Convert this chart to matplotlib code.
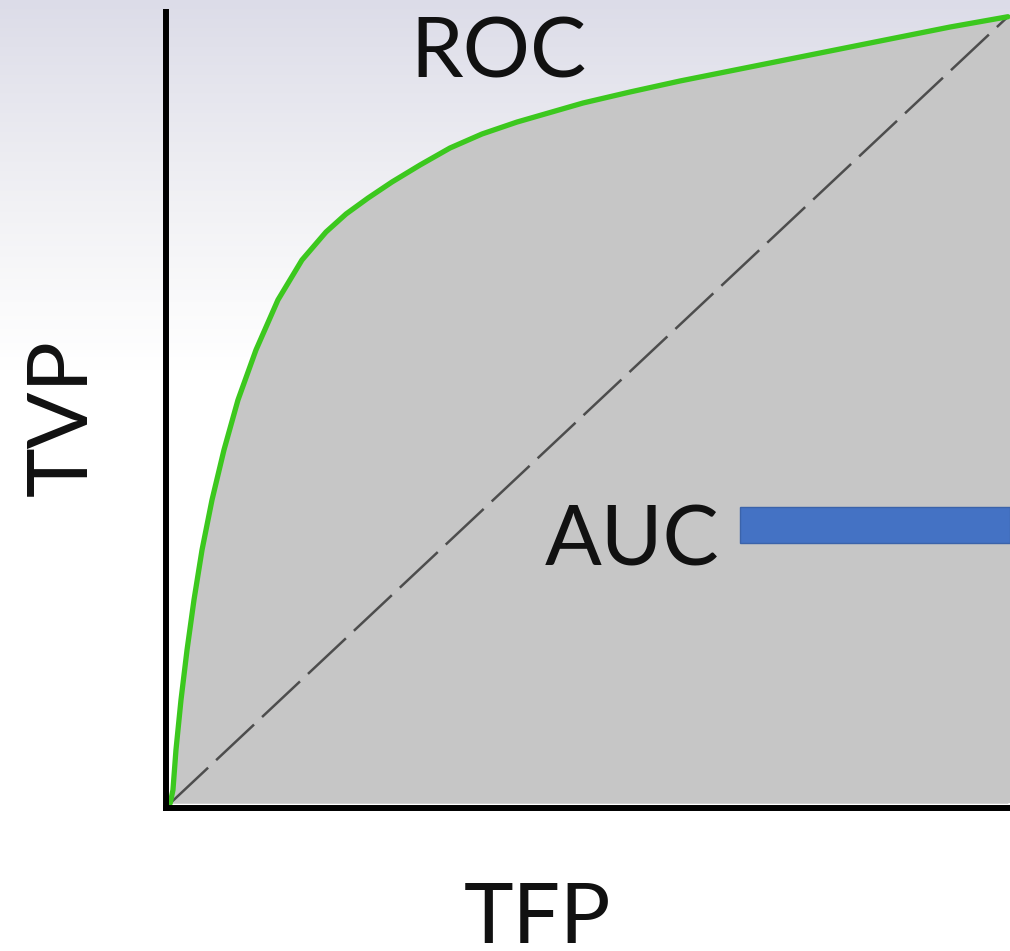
import numpy as np
import matplotlib
matplotlib.use("Agg")
import matplotlib.pyplot as plt
from matplotlib.patches import Rectangle

# ROC curve points (false positive rate, true positive rate)
fpr = [0.0, 0.0033, 0.0069, 0.0129, 0.0201, 0.0284, 0.0380, 0.0499, 0.0642,
       0.0809, 0.1024, 0.1286, 0.1573, 0.1860, 0.2099, 0.2362, 0.2648, 0.2983,
       0.3340, 0.3722, 0.4140, 0.4928, 0.5489, 0.6086, 0.6922, 0.8115, 0.9309,
       1.0]
tpr = [0.0, 0.0169, 0.0678, 0.1314, 0.1949, 0.2585, 0.3221, 0.3856, 0.4492,
       0.5127, 0.5763, 0.6399, 0.6907, 0.7263, 0.7492, 0.7695, 0.7899, 0.8115,
       0.8331, 0.8509, 0.8661, 0.8903, 0.9043, 0.9183, 0.9361, 0.9615, 0.9869,
       1.0]
# chance line
chance = [0.0, 1.0]

title_text = "ROC"
area_text = "AUC"
x_label = "TFP"
y_label = "TVP"

W, H = 1010, 951
fig = plt.figure(figsize=(W / 100, H / 100), dpi=100)

# soft background gradient, lavender at the top fading to white
bg = fig.add_axes([0, 0, 1, 1], zorder=0)
rows = np.arange(H)
stops_y = [0, 100, 200, 300, 370, H]
stops_c = np.array([[0.863, 0.863, 0.910],
                    [0.905, 0.905, 0.935],
                    [0.945, 0.945, 0.958],
                    [0.980, 0.980, 0.984],
                    [1.0, 1.0, 1.0],
                    [1.0, 1.0, 1.0]])
grad = np.stack([np.interp(rows, stops_y, stops_c[:, k]) for k in range(3)], axis=-1)
bg.imshow(grad[:, None, :], aspect="auto", extent=[0, 1, 0, 1], origin="upper",
          interpolation="bilinear")
bg.axis("off")

# main axes in pixel layout
left, right, top, bottom = 166, 1010, 12, 808
ax = fig.add_axes([left / W, 1 - bottom / H, (right - left) / W, (bottom - top) / H], zorder=1)
ax.patch.set_alpha(0)
ax.set_xlim(-0.005, 1.0025)
ax.set_ylim(-0.006, 1.006)

ax.fill_between(fpr, tpr, 0, color="#c6c6c6", zorder=1, linewidth=0)
ax.fill_between([1.0, 1.01], [1.0, 1.0], 0, color="#c6c6c6", zorder=1, linewidth=0)
ax.plot(chance, chance, color="#4d4d4d", lw=1.8, linestyle=(0, (20.8, 4.4)), zorder=2)
ax.plot(fpr, tpr, color="#3cc81e", lw=3.8, solid_capstyle="round",
        solid_joinstyle="round", zorder=3)

for s in ["top", "right"]:
    ax.spines[s].set_visible(False)
for s in ["left", "bottom"]:
    ax.spines[s].set_linewidth(4.3)
    ax.spines[s].set_color("black")
    ax.spines[s].set_capstyle("projecting")
    ax.spines[s].set_zorder(5)
ax.set_xticks([])
ax.set_yticks([])

font = dict(family=["Lato", "DejaVu Sans"], color="#111111", size=60.5,
            rotation_mode="anchor")


def px(x, y):
    return x / W, 1 - y / H


fig.text(*px(498.5, 77), title_text, ha="center", va="baseline", zorder=6, **font)
fig.text(*px(632, 565), area_text, ha="center", va="baseline", zorder=6, **font)
fig.text(*px(537, 943), x_label, ha="center", va="baseline", zorder=6, **font)
fig.text(*px(87, 418), y_label, ha="center", va="baseline", rotation=90, zorder=6, **font)

# AUC pointer bar
bar = Rectangle(px(740, 543), 270 / W, 36 / H, transform=fig.transFigure,
                facecolor="#4472c4", edgecolor="#3b63aa", linewidth=1.0, zorder=6)
fig.patches.append(bar)

fig.savefig("out.png", dpi=100)
